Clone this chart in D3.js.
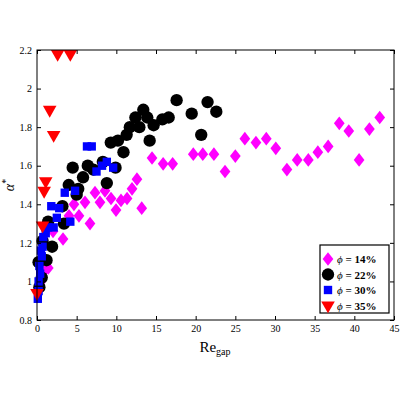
<!DOCTYPE html><html><head><script src="https://cdn.jsdelivr.net/npm/d3@7"></script>
<style>body{margin:0;background:#fff}text{font-family:"Liberation Serif",serif}</style></head><body><svg id="c" width="400" height="400"></svg><script>
const xTicks=[0,5,10,15,20,25,30,35,40,45];
const yTicks=[0.8,1,1.2,1.4,1.6,1.8,2,2.2];
const s14=[[0.5,1.0],[0.8,1.05],[1.42,1.07],[2.02,1.26],[3.28,1.22],[4.03,1.34],[4.66,1.40],[5.29,1.34],[6.05,1.41],[6.68,1.30],[7.31,1.46],[7.94,1.41],[8.57,1.47],[9.33,1.43],[9.96,1.37],[10.59,1.42],[11.35,1.43],[11.98,1.48],[12.6,1.53],[13.2,1.38],[14.5,1.64],[15.9,1.61],[17.1,1.61],[19.7,1.66],[20.9,1.66],[22.3,1.66],[23.7,1.57],[25.0,1.65],[26.2,1.74],[27.6,1.72],[28.9,1.74],[30.1,1.69],[31.5,1.58],[32.8,1.63],[34.2,1.63],[35.4,1.67],[36.7,1.70],[38.1,1.82],[39.3,1.78],[40.6,1.63],[41.9,1.79],[43.2,1.85]];
const s22=[[17.6,1.94],[19.5,1.87],[20.7,1.76],[21.5,1.93],[22.6,1.88],[16.6,1.85],[15.8,1.84],[14.7,1.81],[14.2,1.73],[13.9,1.85],[13.4,1.89],[12.4,1.85],[12.9,1.80],[11.7,1.80],[11.3,1.76],[10.9,1.67],[10.2,1.73],[9.3,1.72],[9.9,1.59],[8.8,1.51],[8.3,1.62],[7.1,1.58],[6.4,1.60],[5.8,1.54],[5.2,1.48],[5.0,1.45],[4.5,1.59],[4.0,1.50],[3.2,1.39],[3.4,1.30],[1.4,1.31],[1.9,1.18],[1.2,1.11],[0.2,1.10],[0.6,1.02],[0.3,0.97],[0.7,1.21]];
const s30=[[0.1,0.91],[0.4,1.04],[0.6,1.13],[0.7,1.18],[0.8,1.23],[1.1,1.25],[1.4,1.28],[2.1,1.28],[1.8,1.39],[2.5,1.33],[2.8,1.38],[4.2,1.31],[3.5,1.46],[4.8,1.47],[6.3,1.70],[6.9,1.70],[7.5,1.57],[8.2,1.60],[8.8,1.62],[9.6,1.59],[0.2,1.0],[0.3,1.08],[0.5,1.16],[0.2,0.95]];
const s35=[[2.6,2.18],[4.2,2.18],[1.6,1.89],[2.1,1.76],[1.1,1.52],[0.9,1.47],[0.7,1.29],[0.0,0.94]];
const names=["\u03d5 = 14%","\u03d5 = 22%","\u03d5 = 30%","\u03d5 = 35%"];
const svg=d3.select("#c"),L=37,R=394,T=50,B=320;
const x=d3.scaleLinear().domain([0,45]).range([L,R]);
const y=d3.scaleLinear().domain([0.8,2.2]).range([B,T]);
const g=svg.append("g");
const DS=" scale(1.15,0.85)";
const sym={d:d3.symbol().type(d3.symbolDiamond).size(75),c:d3.symbol().type(d3.symbolCircle).size(120),s:d3.symbol().type(d3.symbolSquare).size(70),t:d3.symbol().type(d3.symbolTriangle).size(80)};
function draw(data,p,col,flip){g.selectAll(null).data(data).enter().append("path").attr("d",p).attr("fill",col)
 .attr("transform",d=>`translate(${x(d[0])},${y(d[1])})${flip?" rotate(180)":""}`+(p===sym.d?DS:""));}
draw(s14,sym.d,"#ff00ff");draw(s22,sym.c,"#000");draw(s30,sym.s,"#0000ff");draw(s35,sym.t,"#ff0000",true);
svg.append("rect").attr("x",L).attr("y",T).attr("width",R-L).attr("height",B-T).attr("fill","none").attr("stroke","#000");
svg.append("g").attr("transform",`translate(0,${B})`).call(d3.axisBottom(x).tickValues(xTicks).tickSizeInner(-4).tickSizeOuter(0).tickPadding(5));
svg.append("g").attr("transform",`translate(0,${T})`).call(d3.axisTop(x).tickValues(xTicks).tickSizeInner(-4).tickSizeOuter(0).tickFormat(""));
svg.append("g").attr("transform",`translate(${L},0)`).call(d3.axisLeft(y).tickValues(yTicks).tickSizeInner(-4).tickSizeOuter(0).tickPadding(5).tickFormat(d=>String(+d.toFixed(1))));
svg.append("g").attr("transform",`translate(${R},0)`).call(d3.axisRight(y).tickValues(yTicks).tickSizeInner(-4).tickSizeOuter(0).tickFormat(""));
svg.selectAll(".domain").remove();
svg.selectAll(".tick text").attr("font-size",10).attr("font-family","Liberation Serif");
svg.append("text").attr("x",215).attr("y",352).attr("text-anchor","middle").attr("font-size",15).html('Re<tspan font-size="10" dy="3">gap</tspan>');
svg.append("text").attr("transform","translate(14,185) rotate(-90)").attr("text-anchor","middle").attr("font-size",14).html('<tspan font-style="italic">α</tspan><tspan font-size="10" dy="-5">*</tspan>');
const lg=svg.append("g");
lg.append("rect").attr("x",320).attr("y",245).attr("width",69).attr("height",68).attr("fill","#fff").attr("stroke","#000").attr("stroke-width",1.2);
const ls=[[sym.d,"#ff00ff",false],[sym.c,"#000",false],[sym.s,"#0000ff",false],[sym.t,"#ff0000",true]];
names.forEach((n,i)=>{const yy=259+i*15.5;
 lg.append("path").attr("d",ls[i][0]).attr("fill",ls[i][1]).attr("transform",`translate(328,${yy})${ls[i][2]?" rotate(180)":""}`+(i==0?DS:""));
 lg.append("text").attr("x",337).attr("y",yy+4).attr("font-size",11).attr("font-weight","bold").html(`<tspan font-style="italic" font-weight="normal">ϕ</tspan>${n.slice(1)}`);});
</script></body></html>
